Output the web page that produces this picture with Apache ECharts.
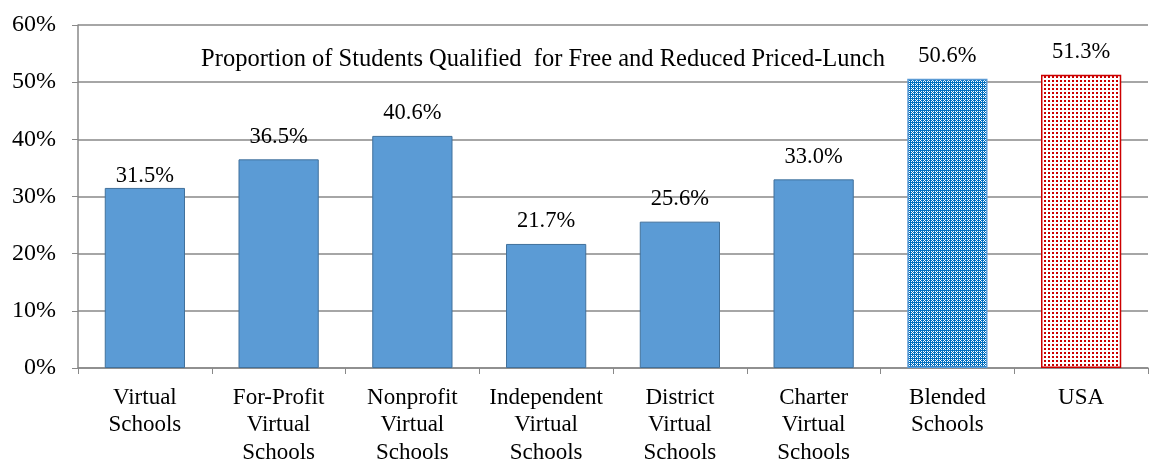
<!DOCTYPE html>
<html>
<head>
<meta charset="utf-8">
<script src="https://cdn.jsdelivr.net/npm/echarts@6/dist/echarts.min.js"></script>
<style>
html, body { margin: 0; padding: 0; background: #fff; }
#main { width: 1152px; height: 463px; }
</style>
</head>
<body>
<div id="main"></div>
<script>
const categories = [
  "Virtual\nSchools", "For-Profit\nVirtual\nSchools", "Nonprofit\nVirtual\nSchools",
  "Independent\nVirtual\nSchools", "District\nVirtual\nSchools", "Charter\nVirtual\nSchools",
  "Blended\nSchools", "USA"
];
const values = [31.5, 36.5, 40.6, 21.7, 25.6, 33.0, 50.6, 51.3];
const chartTitle = "Proportion of Students Qualified  for Free and Reduced Priced-Lunch";

function makePattern(bg, fg, cells) {
  const c = document.createElement("canvas");
  c.width = 4; c.height = 4;
  const ctx = c.getContext("2d");
  ctx.fillStyle = bg;
  ctx.fillRect(0, 0, 4, 4);
  ctx.fillStyle = fg;
  cells.forEach(p => ctx.fillRect(p[0], p[1], p[2], p[3]));
  return c;
}

const blendedPat = makePattern("#0070c0", "#ffffff", [[1, 1, 1, 1], [3, 3, 1, 1], [1, 3, 1, 1], [3, 1, 1, 1], [0, 0, 1, 1]]);
const usaPat = makePattern("#ffffff", "#cc0000", [[0, 0, 2, 2]]);

const font = "'Liberation Serif', 'Times New Roman', serif";

const barData = values.map((v, i) => {
  const item = { value: v };
  if (i === 6) {
    item.itemStyle = { color: { image: blendedPat, repeat: "repeat" }, borderColor: "#5b9bd5", borderWidth: 1.5 };
  } else if (i === 7) {
    item.itemStyle = { color: { image: usaPat, repeat: "repeat" }, borderColor: "#cc0000", borderWidth: 1.5 };
  }
  if (i === 0) item.label = { distance: 0 };
  return item;
});

const myChart = echarts.init(document.getElementById("main"));
const option = {
  animation: false,
  title: {
    text: chartTitle,
    left: 538,
    top: 42,
    textAlign: "center",
    textStyle: { fontFamily: font, fontSize: 24.5, fontWeight: "normal", color: "#000" }
  },
  grid: { left: 78, right: 4, top: 25, bottom: 95, outerBoundsMode: "none", containLabel: false },
  xAxis: {
    type: "category",
    data: categories,
    axisLine: { lineStyle: { color: "#898989", width: 1.5 } },
    axisTick: { show: true, length: 6, lineStyle: { color: "#898989" } },
    axisLabel: { color: "#000", fontFamily: font, fontSize: 23, lineHeight: 27.5, margin: 16, interval: 0 }
  },
  yAxis: {
    type: "value",
    min: 0,
    max: 60,
    interval: 10,
    axisLine: { show: true, lineStyle: { color: "#898989", width: 1.5 } },
    axisTick: { show: true, length: 6, lineStyle: { color: "#898989" } },
    splitLine: { lineStyle: { color: "#898989", width: 1.5 } },
    axisLabel: { color: "#000", fontFamily: font, fontSize: 24, margin: 22, formatter: "{value}%" }
  },
  series: [{
    type: "bar",
    data: barData,
    barWidth: "60%",
    itemStyle: { color: "#5b9bd5", borderColor: "#41719c", borderWidth: 1 },
    label: {
      show: true,
      position: "top",
      distance: 11,
      color: "#000",
      fontFamily: font,
      fontSize: 22.5,
      formatter: p => p.value.toFixed(1) + "%"
    }
  }]
};
myChart.setOption(option);
</script>
</body>
</html>
